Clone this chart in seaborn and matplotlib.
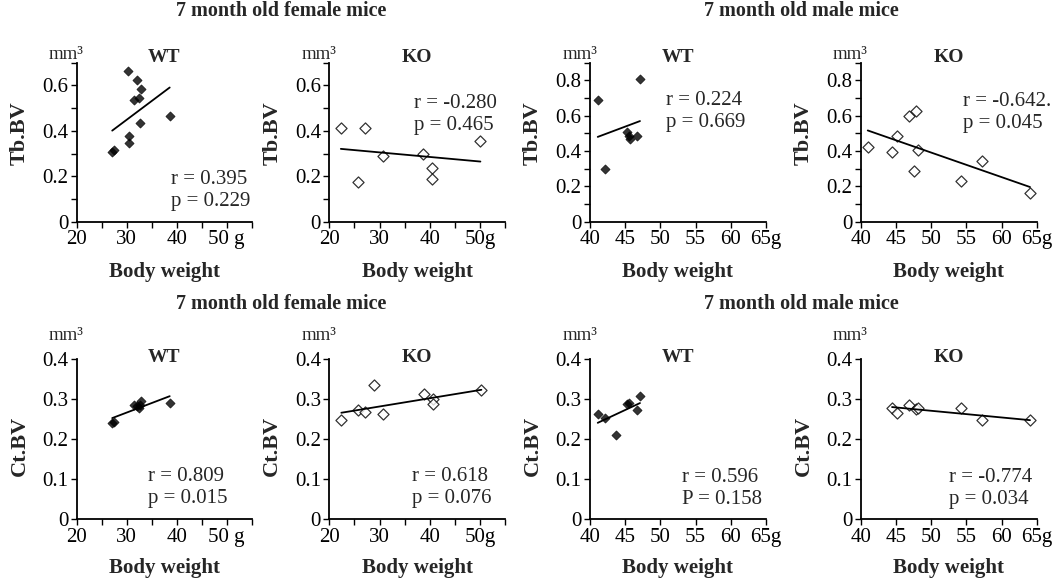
import numpy as np
import pandas as pd
import seaborn as sns
from matplotlib import pyplot as plt

sns.set_style('ticks')
plt.rcParams['font.family'] = ['Liberation Serif', 'DejaVu Serif']

# Tb.BV vs body weight
f_wt_bw_tb = [30.3, 32.05, 32.9, 31.4, 32.4, 32.7, 38.6, 30.5, 30.5, 27.1, 27.4]
f_wt_tb = [0.663, 0.622, 0.586, 0.537, 0.545, 0.435, 0.464, 0.378, 0.347, 0.307, 0.315]
f_ko_bw_tb = [22.3, 25.7, 27.1, 30.6, 38.7, 40.5, 40.5, 50.1]
f_ko_tb = [0.413, 0.175, 0.413, 0.289, 0.299, 0.236, 0.19, 0.355]
m_wt_bw_tb = [41.1, 47.1, 42.2, 45.3, 45.5, 45.7, 46.7]
m_wt_tb = [0.69, 0.805, 0.30, 0.51, 0.485, 0.47, 0.487]
m_ko_bw_tb = [41.0, 44.45, 45.1, 46.9, 47.9, 47.5, 48.2, 54.2, 57.3, 64.05]
m_ko_tb = [0.425, 0.393, 0.486, 0.599, 0.628, 0.289, 0.406, 0.231, 0.344, 0.161]

# Ct.BV vs body weight
f_wt_bw_ct = [27.1, 27.4, 31.4, 32.05, 32.4, 32.7, 32.9, 38.6]
f_wt_ct = [0.241, 0.244, 0.286, 0.284, 0.278, 0.285, 0.296, 0.290]
f_ko_bw_ct = [22.4, 25.7, 27.2, 29.0, 30.7, 38.8, 40.6, 40.7, 50.3]
f_ko_ct = [0.247, 0.272, 0.268, 0.336, 0.263, 0.313, 0.301, 0.288, 0.323]
m_wt_bw_ct = [41.1, 42.2, 43.7, 45.3, 45.6, 46.7, 47.1]
m_wt_ct = [0.262, 0.253, 0.211, 0.289, 0.291, 0.273, 0.307]
m_ko_bw_ct = [44.45, 45.1, 46.9, 47.9, 48.2, 54.2, 57.3, 64.05]
m_ko_ct = [0.279, 0.266, 0.286, 0.275, 0.278, 0.279, 0.247, 0.247]

f_xticks = [20, 25, 30, 35, 40, 45, 50, 55]
f_wt_xlabels = ['20', '', '30', '', '40', '', '50 g', '']
f_ko_xlabels = ['20', '', '30', '', '40', '', '50g', '']
m_xticks = [40, 45, 50, 55, 60, 65]
m_xlabels = ['40', '45', '50', '55', '60', '65g']
f_tb_yticks = [0, 0.1, 0.2, 0.3, 0.4, 0.5, 0.6, 0.7]
f_tb_ylabels = ['0', '', '0.2', '', '0.4', '', '0.6', '']
m_tb_yticks = [0, 0.1, 0.2, 0.3, 0.4, 0.5, 0.6, 0.7, 0.8, 0.9]
m_tb_ylabels = ['0', '', '0.2', '', '0.4', '', '0.6', '', '0.8', '']
ct_yticks = [0, 0.1, 0.2, 0.3, 0.4]
ct_ylabels = ['0', '0.1', '0.2', '0.3', '0.4']

stats = ['r = 0.395\np = 0.229', 'r = -0.280\np = 0.465',
         'r = 0.224\np = 0.669', 'r = -0.642.\np = 0.045',
         'r = 0.809\np = 0.015', 'r = 0.618\np = 0.076',
         'r = 0.596\nP = 0.158', 'r = -0.774\np = 0.034']

panels = [
    (f_wt_bw_tb, f_wt_tb, 'WT', f_xticks, f_wt_xlabels, f_tb_yticks, f_tb_ylabels, 'Tb.BV'),
    (f_ko_bw_tb, f_ko_tb, 'KO', f_xticks, f_ko_xlabels, f_tb_yticks, f_tb_ylabels, 'Tb.BV'),
    (m_wt_bw_tb, m_wt_tb, 'WT', m_xticks, m_xlabels, m_tb_yticks, m_tb_ylabels, 'Tb.BV'),
    (m_ko_bw_tb, m_ko_tb, 'KO', m_xticks, m_xlabels, m_tb_yticks, m_tb_ylabels, 'Tb.BV'),
    (f_wt_bw_ct, f_wt_ct, 'WT', f_xticks, f_wt_xlabels, ct_yticks, ct_ylabels, 'Ct.BV'),
    (f_ko_bw_ct, f_ko_ct, 'KO', f_xticks, f_ko_xlabels, ct_yticks, ct_ylabels, 'Ct.BV'),
    (m_wt_bw_ct, m_wt_ct, 'WT', m_xticks, m_xlabels, ct_yticks, ct_ylabels, 'Ct.BV'),
    (m_ko_bw_ct, m_ko_ct, 'KO', m_xticks, m_xlabels, ct_yticks, ct_ylabels, 'Ct.BV'),
]

# layout (pixels of the 1058x579 figure)
W, H = 1058, 579
lefts = [76.7, 329.3, 590, 860.7]
widths = [175, 175.7, 176, 176]
bottoms = [221.7, 519.3]
heights = [159, 160]
# per row: mm3 baseline offset above axes top (px), WT/KO baseline offset,
# ylabel y, xlabel pad
mm_off = [4, 19]
grp_off = [1, -3]
ylab_y = [0.558, 0.458]
xlab_pad = [9, 8]
# stats text: left x, centre y of the two lines (axes fraction)
text_pos = [(0.54, 0.194), (0.48, 0.672), (0.43, 0.695), (0.583, 0.686),
            (0.41, 0.201), (0.47, 0.201), (0.52, 0.19), (0.50, 0.191)]

fig = plt.figure(figsize=(10.58, 5.79), dpi=100)

for i, (x, y, grp, xt, xl, yt, yl, ylab) in enumerate(panels):
    row, col = divmod(i, 4)
    ax = fig.add_axes([lefts[col] / W, (H - bottoms[row]) / H,
                       widths[col] / W, heights[row] / H])
    df = pd.DataFrame({'bw': x, 'v': y})
    if grp == 'WT':
        skw = dict(s=22, color='black', edgecolor='black', linewidths=0.5)
    else:
        skw = dict(s=32, facecolor='white', edgecolor='black', linewidths=0.9)
    sns.regplot(data=df, x='bw', y='v', ax=ax, ci=None, marker='D',
                scatter_kws=skw, line_kws=dict(color='black', lw=1.3))
    ax.set_xlim(xt[0], xt[-1])
    ax.set_ylim(yt[0], yt[-1])
    ax.set_xticks(xt)
    ax.set_xticklabels(xl)
    ax.set_yticks(yt)
    ax.set_yticklabels(yl)
    ax.tick_params(direction='out', length=4, width=1, labelsize=15,
                   colors='black', pad=2)
    for s in ['top', 'right']:
        ax.spines[s].set_visible(False)
    for s in ['left', 'bottom']:
        ax.spines[s].set_linewidth(1.3)
        ax.spines[s].set_color('black')
    ax.set_xlabel('Body weight', fontsize=15, fontweight='bold',
                  labelpad=xlab_pad[row])
    ax.set_ylabel(ylab, fontsize=16, fontweight='bold')
    ax.yaxis.set_label_coords(-47 / widths[col], ylab_y[row])
    ax.patch.set_alpha(0)
    h = heights[row]
    ax.text(0.5, 1.0 + grp_off[row] / h, grp, transform=ax.transAxes,
            ha='center', va='baseline', fontsize=14, fontweight='bold')
    ax.text(0.04, 1.0 + mm_off[row] / h, 'mm³', transform=ax.transAxes,
            ha='right', va='baseline', fontsize=13.5)
    tx, ty = text_pos[i]
    ax.text(tx, ty, stats[i], transform=ax.transAxes, ha='left', va='center',
            fontsize=15, linespacing=1.2)

titles = ['7 month old female mice', '7 month old male mice']
for ty in [11, 304]:
    fig.text(281 / W, 1 - ty / H, titles[0], ha='center', va='center',
             fontsize=14.5, fontweight='bold')
    fig.text(801 / W, 1 - ty / H, titles[1], ha='center', va='center',
             fontsize=14.5, fontweight='bold')

fig.savefig('out.png', dpi=100)
